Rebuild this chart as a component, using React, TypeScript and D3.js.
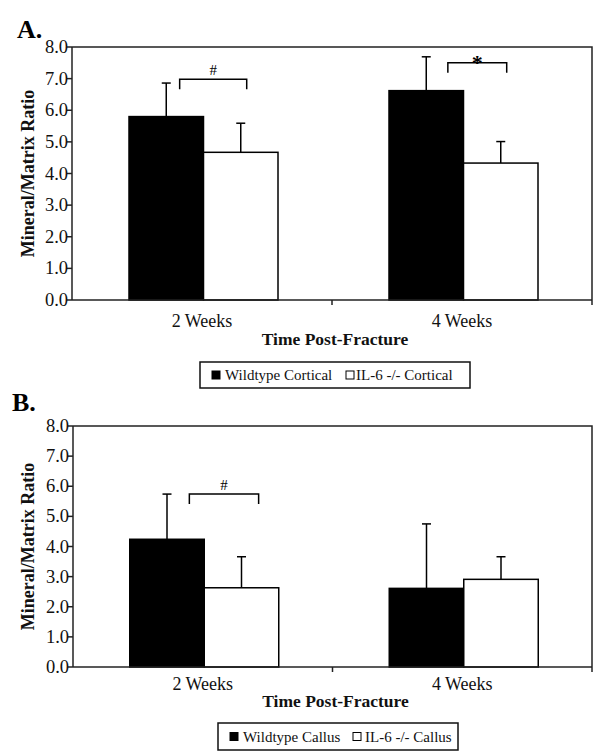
import React from "react";
import * as d3 from "d3";

const categories = ["2 Weeks", "4 Weeks"];
const yTicks = [0, 1, 2, 3, 4, 5, 6, 7, 8];

const seriesA = ["Wildtype Cortical", "IL-6 -/- Cortical"];
const wildtypeCortical = [5.8, 6.62];
const wildtypeCorticalErr = [1.06, 1.07];
const il6Cortical = [4.67, 4.33];
const il6CorticalErr = [0.92, 0.68];

const seriesB = ["Wildtype Callus", "IL-6 -/- Callus"];
const wildtypeCallus = [4.24, 2.61];
const wildtypeCallusErr = [1.5, 2.14];
const il6Callus = [2.63, 2.91];
const il6CallusErr = [1.03, 0.75];

// significance markers: category index, symbol, bracket level (data units)
const sigA = [
  { cat: 0, sym: "#", level: 6.98, f0: 0.68, f1: 0.58 },
  { cat: 1, sym: "*", level: 7.5, f0: 0.79, f1: 0.58 },
];
const sigB = [{ cat: 0, sym: "#", level: 5.74, f0: 0.8, f1: 0.73 }];

const FONT = "Liberation Serif, Tinos, Times New Roman, Times, Nimbus Roman, DejaVu Serif, serif";
const FILLS = ["#000", "#fff"];

type Sig = { cat: number; sym: string; level: number; f0: number; f1: number };

type PanelProps = {
  letter: string;
  letterX: number;
  letterY: number;
  left: number;
  right: number;
  top: number;
  bottom: number;
  series: string[];
  values: number[][];
  errors: number[][];
  sigs: Sig[];
  catLabelDy: number;
  titleDy: number;
  legend: { x0: number; x1: number; y0: number; y1: number; itemX: number[]; textX: number[] };
};

function Panel(p: PanelProps) {
  const y = d3.scaleLinear().domain([0, 8]).range([p.bottom, p.top]);
  const x = d3.scaleBand<string>().domain(categories).range([p.left, p.right]).padding(0);
  const groupW = 149;
  const inner = d3.scaleBand<string>().domain(p.series).range([0, groupW]).padding(0);
  const off = (x.bandwidth() - groupW) / 2 + 1.5;
  const sw = 1.5;
  const capW = 9;
  const barX = (c: string, s: string) => (x(c) as number) + off + (inner(s) as number);

  const bars: React.ReactNode[] = [];
  categories.forEach((c, ci) => {
    p.series.forEach((s, si) => {
      const v = p.values[si][ci];
      const e = p.errors[si][ci];
      const bx = barX(c, s);
      const bw = inner.bandwidth();
      const cx = bx + bw / 2;
      bars.push(
        <g key={c + s}>
          <line x1={cx} x2={cx} y1={y(v)} y2={y(v + e)} stroke="#000" strokeWidth={sw} />
          <line x1={cx - capW / 2} x2={cx + capW / 2} y1={y(v + e)} y2={y(v + e)} stroke="#000" strokeWidth={sw} />
          <rect x={bx} y={y(v)} width={bw} height={y(0) - y(v)} fill={FILLS[si]} stroke="#000" strokeWidth={sw} />
        </g>
      );
    });
  });

  const brackets = p.sigs.map((sg, i) => {
    const c = categories[sg.cat];
    const bw = inner.bandwidth();
    const bx0 = barX(c, p.series[0]) + bw * sg.f0;
    const bx1 = barX(c, p.series[1]) + bw * sg.f1;
    const by = y(sg.level);
    const star = sg.sym === "*";
    return (
      <g key={i}>
        <path d={`M${bx0},${by + 10}V${by}H${bx1}V${by + 10}`} fill="none" stroke="#000" strokeWidth={1.5} />
        <text
          x={(bx0 + bx1) / 2}
          y={star ? by + 7 : by - 4}
          textAnchor="middle"
          fontFamily={FONT}
          fontSize={star ? 22 : 15}
          fontWeight={star ? "bold" : "normal"}
        >
          {sg.sym}
        </text>
      </g>
    );
  });

  const lg = p.legend;
  const ly = (lg.y0 + lg.y1) / 2;

  return (
    <g>
      <text x={p.letterX} y={p.letterY} fontFamily={FONT} fontWeight="bold" fontSize={26}>
        {p.letter}
      </text>
      <path d={`M${p.left},${p.top}H${p.right}V${p.bottom}`} fill="none" stroke="#222" strokeWidth={1.5} />
      {bars}
      <line x1={p.left} x2={p.left} y1={p.top} y2={p.bottom} stroke="#222" strokeWidth={1.5} />
      {yTicks.map((t) => (
        <g key={t}>
          <line x1={p.left - 5} x2={p.left} y1={y(t)} y2={y(t)} stroke="#222" strokeWidth={1.5} />
          <text x={p.left - 4} y={y(t)} dy="0.33em" textAnchor="end" fontFamily={FONT} fontSize={18.5} fill="#111">
            {t.toFixed(1)}
          </text>
        </g>
      ))}
      <line x1={p.left} x2={p.right} y1={p.bottom} y2={p.bottom} stroke="#222" strokeWidth={1.5} />
      {categories.map((c, i) => (
        <g key={c}>
          {i > 0 && <line x1={x(c)} x2={x(c)} y1={p.bottom} y2={p.bottom + 5} stroke="#222" strokeWidth={1.5} />}
          <text
            x={(x(c) as number) + x.bandwidth() / 2}
            y={p.bottom + p.catLabelDy}
            textAnchor="middle"
            fontFamily={FONT}
            fontSize={18}
            fill="#111"
          >
            {c}
          </text>
        </g>
      ))}
      <line x1={p.right} x2={p.right} y1={p.bottom} y2={p.bottom + 5} stroke="#222" strokeWidth={1.5} />
      <text
        x={(p.left + p.right) / 2 + 3}
        y={p.bottom + p.titleDy}
        textAnchor="middle"
        fontFamily={FONT}
        fontWeight="bold"
        fontSize={17.5}
        fill="#111"
      >
        Time Post-Fracture
      </text>
      <text
        transform={`translate(28,${(p.top + p.bottom) / 2}) rotate(-90)`}
        textAnchor="middle"
        dy="0.35em"
        fontFamily={FONT}
        fontWeight="bold"
        fontSize={18}
        fill="#111"
      >
        Mineral/Matrix Ratio
      </text>
      <rect x={lg.x0} y={lg.y0} width={lg.x1 - lg.x0} height={lg.y1 - lg.y0} fill="#fff" stroke="#111" strokeWidth={1.5} />
      {p.series.map((s, i) => (
        <g key={s}>
          <rect x={lg.itemX[i]} y={ly - 4} width={8} height={8} fill={FILLS[i]} stroke="#000" strokeWidth={1} />
          <text x={lg.textX[i]} y={ly} dy="0.35em" fontFamily={FONT} fontSize={15} fill="#111">
            {s}
          </text>
        </g>
      ))}
      {brackets}
    </g>
  );
}

export default function App() {
  return (
    <svg width={600} height={755} style={{ position: "absolute", left: 0, top: 0, background: "#fff" }}>
      <rect width={600} height={755} fill="#fff" />
      <Panel
        letter="A."
        letterX={17}
        letterY={38}
        left={72}
        right={592}
        top={47}
        bottom={300}
        series={seriesA}
        values={[wildtypeCortical, il6Cortical]}
        errors={[wildtypeCorticalErr, il6CorticalErr]}
        sigs={sigA}
        catLabelDy={27}
        titleDy={45}
        legend={{ x0: 200, x1: 470, y0: 362, y1: 388, itemX: [212, 346], textX: [225, 356] }}
      />
      <Panel
        letter="B."
        letterX={12}
        letterY={411}
        left={73}
        right={592}
        top={426}
        bottom={667}
        series={seriesB}
        values={[wildtypeCallus, il6Callus]}
        errors={[wildtypeCallusErr, il6CallusErr]}
        sigs={sigB}
        catLabelDy={23}
        titleDy={40}
        legend={{ x0: 218, x1: 458, y0: 723, y1: 750, itemX: [230, 353], textX: [243, 365] }}
      />
    </svg>
  );
}
